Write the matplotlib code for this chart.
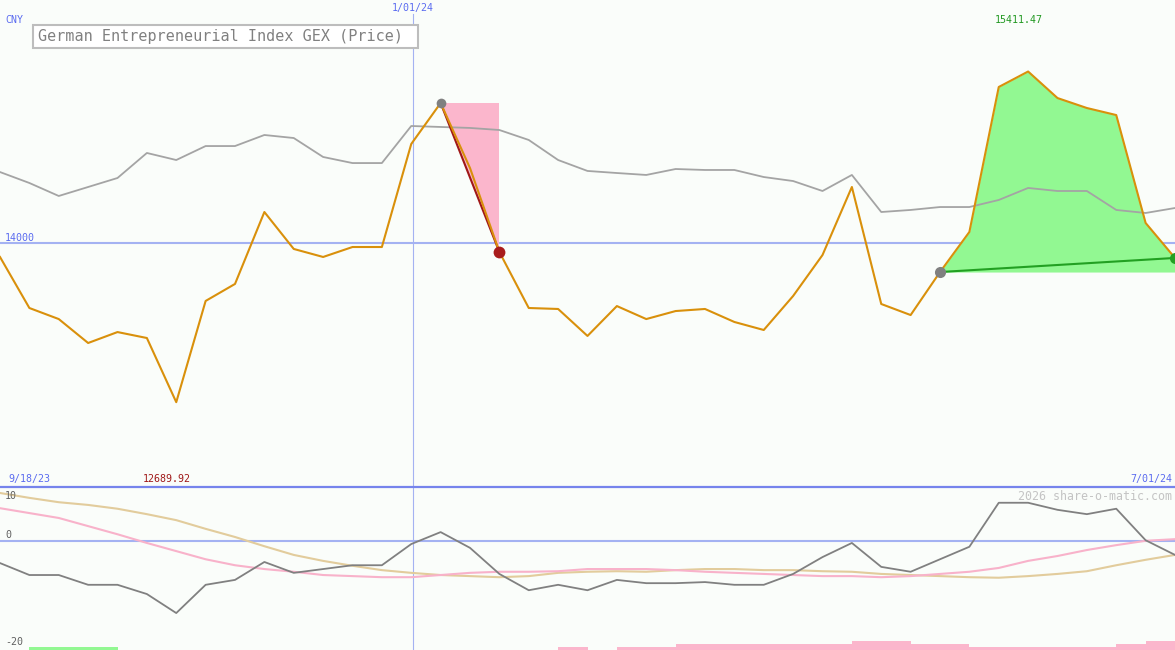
import numpy as np
import matplotlib
matplotlib.use('Agg')
import matplotlib.pyplot as plt
from matplotlib.patches import Rectangle, Polygon

# ── data (weekly points, 9/18/23 .. 7/01/24) ────────────────────
price = [13885, 13465, 13374, 13177, 13267, 13218, 12689.92, 13523, 13663, 14255,
         13951, 13885, 13967, 13967, 14815, 15152, 14617, 13926, 13465, 13457,
         13235, 13481, 13374, 13440, 13457, 13350, 13284, 13564, 13901, 14461,
         13498, 13407, 13761, 14091, 15284, 15411.47, 15193, 15111, 15053, 14165,
         13877]
compare = [14584, 14494, 14387, 14461, 14535, 14741, 14683, 14798, 14798, 14889,
           14864, 14708, 14658, 14658, 14963, 14955, 14947, 14930, 14848, 14683,
           14593, 14576, 14560, 14609, 14601, 14601, 14543, 14510, 14428, 14560,
           14255, 14272, 14296, 14296, 14354, 14453, 14428, 14428, 14272, 14247,
           14288]
momentum = [-4.0, -6.2, -6.2, -8.0, -8.0, -9.7, -13.2, -8.0, -7.1, -3.8,
            -5.8, -5.1, -4.4, -4.4, -0.5, 1.7, -1.2, -6.0, -9.0, -8.0,
            -9.0, -7.1, -7.7, -7.7, -7.5, -8.0, -8.0, -6.0, -2.9, -0.3,
            -4.7, -5.6, -3.3, -1.0, 7.1, 7.1, 5.8, 5.0, 6.0, 0.2,
            -2.5]
slow_avg = [8.9, 8.0, 7.2, 6.7, 6.0, 5.0, 3.9, 2.3, 0.8, -0.9,
            -2.5, -3.6, -4.5, -5.3, -5.8, -6.2, -6.4, -6.6, -6.4, -5.8,
            -5.6, -5.5, -5.6, -5.3, -5.1, -5.1, -5.3, -5.3, -5.5, -5.6,
            -6.0, -6.2, -6.4, -6.6, -6.7, -6.4, -6.0, -5.5, -4.4, -3.4,
            -2.5]
fast_avg = [6.1, 5.2, 4.3, 2.8, 1.3, -0.3, -1.8, -3.3, -4.4, -5.1,
            -5.6, -6.2, -6.4, -6.6, -6.6, -6.2, -5.8, -5.6, -5.6, -5.5,
            -5.1, -5.1, -5.1, -5.3, -5.6, -5.8, -6.0, -6.2, -6.4, -6.4,
            -6.6, -6.4, -6.0, -5.6, -4.9, -3.6, -2.7, -1.6, -0.7, 0.1,
            0.4]
# signal bars: start/end week index, strength (+ buy, - sell)
bar_start = [1, 19, 21, 23, 29, 31, 33, 38, 39]
bar_end = [4, 20, 23, 29, 31, 33, 38, 39, 40]
bar_level = [1, -1, -1, -2, -3, -2, -1, -2, -3]

drop_from, drop_to = 15, 17      # marked fall
rise_from, rise_to = 32, 40      # marked rise
newyear_pos = 14.07              # 1/01/24 marker

weeks = np.arange(len(price))
price = np.array(price)

W, H = 1175, 650
BG = '#fafdfa'
BLUE_T = '#5b6cf0'
MONO = 'DejaVu Sans Mono'

fig = plt.figure(figsize=(W / 100, H / 100), dpi=100)
fig.patch.set_facecolor(BG)

def ftext(x, y, s, **kw):
    fig.text(x / W, 1 - y / H, s, family=MONO, va='center', **kw)

# ── main panel ─────────────────────────────────────────────────
ax = fig.add_axes([0, 1 - 486 / H, 1, 486 / H])
ax.set_facecolor(BG)
ax.set_xlim(0, len(price) - 1)
ax.set_ylim(12000, 16000)
ax.axis('off')

ax.axhline(14000, color='#a4b2f2', lw=1.5, zorder=1)
ax.axvline(newyear_pos, ymax=1 - 14 / 486, color='#a4b2f2', lw=0.8, zorder=1)

# falling marker (pink)
p0, p1 = price[drop_from], price[drop_to]
ax.add_patch(Polygon([[drop_from, p0], [drop_to, p0], [drop_to, p1]],
                     closed=True, facecolor='#fbb6cc', edgecolor='none', zorder=2))
# rising marker (green)
ax.fill_between(weeks[rise_from:rise_to + 1], price[rise_from:rise_to + 1],
                price[rise_from], color='#92f892', lw=0, zorder=2)

ax.plot(weeks, compare, color='#a4a4a4', lw=1.3, zorder=3)
ax.plot([drop_from, drop_to], [p0, p1], color='#a01818', lw=1.5, zorder=4)
ax.plot(weeks, price, color='#d9900b', lw=1.5, zorder=5)
ax.plot([rise_from, rise_to], [price[rise_from], price[rise_to]],
        color='#22a022', lw=1.5, zorder=6)

ax.plot(drop_from, p0, 'o', color='#808080', ms=7, mew=0, zorder=7)
ax.plot(drop_to, p1, 'o', color='#a81c1c', ms=8.5, mew=0, zorder=7)
ax.plot(rise_from, price[rise_from], 'o', color='#808080', ms=8, mew=0, zorder=7)
ax.plot(rise_to, price[rise_to], 'o', color='#22a022', ms=8, mew=0, zorder=7)

# ── lower indicator panel ──────────────────────────────────────
bx = fig.add_axes([0, 0, 1, 163 / H])
bx.set_facecolor(BG)
bx.set_xlim(0, len(price) - 1)
bx.set_ylim(-20, 10)
bx.axis('off')

bx.axhline(0, color='#a4b2f2', lw=1.5, zorder=1)
bx.axvline(newyear_pos, color='#a4b2f2', lw=0.8, zorder=1)

for s, e, lv in zip(bar_start, bar_end, bar_level):
    bx.bar(s, abs(lv) * 0.55, width=e - s, bottom=-20, align='edge',
           color='#92f892' if lv > 0 else '#fbb6cc', lw=0, zorder=2)

bx.plot(weeks, slow_avg, color='#e2cc9c', lw=1.5, zorder=3)
bx.plot(weeks, fast_avg, color='#f8b2ca', lw=1.5, zorder=3)
bx.plot(weeks, momentum, color='#808080', lw=1.3, zorder=4)

# separator line between panels
fig.add_artist(plt.Line2D([0, 1], [1 - 486.5 / H] * 2, color='#7684ec', lw=1.6))

# ── texts ──────────────────────────────────────────────────────
fig.add_artist(Rectangle((33 / W, 1 - 48 / H), 385 / W, 23 / H,
                         facecolor='white', edgecolor='#bdbdbd', lw=1.5))
ftext(38, 36.5, 'German Entrepreneurial Index GEX (Price)', color='#808080', fontsize=10.9)
ftext(5, 20, 'CNY', color=BLUE_T, fontsize=7.2)
ftext(413, 8, '1/01/24', color=BLUE_T, fontsize=7.2, ha='center')
ftext(5, 238, '14000', color=BLUE_T, fontsize=7.2)
ftext(1019, 20, '15411.47', color='#229922', fontsize=7.2, ha='center')
ftext(8, 479, '9/18/23', color=BLUE_T, fontsize=7.2)
ftext(167, 479, '12689.92', color='#a01818', fontsize=7.2, ha='center')
ftext(1172, 479, '7/01/24', color=BLUE_T, fontsize=7.2, ha='right')
ftext(1172, 496, '2026 share-o-matic.com', color='#c4c4c4', fontsize=8.4, ha='right')
ftext(5, 496, '10', color='#606060', fontsize=7.2)
ftext(5, 535, '0', color='#606060', fontsize=7.2)
ftext(5, 642, '-20', color='#606060', fontsize=7.2)

fig.savefig('out.png', dpi=100, facecolor=BG)
